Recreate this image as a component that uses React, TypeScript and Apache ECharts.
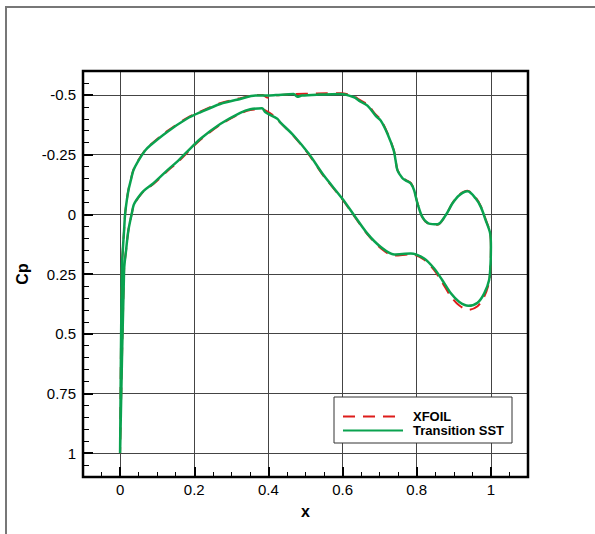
import React, { useEffect, useRef } from "react";
import * as echarts from "echarts";

// Transition SST: from trailing edge along upper surface to leading edge, then lower surface back to trailing edge
const sstX = [
  1.0, 0.998, 0.986, 0.973, 0.959, 0.937, 0.914, 0.896, 0.878, 0.856, 0.833, 0.815, 0.802, 0.793, 0.784, 0.770,
  0.761, 0.748, 0.743, 0.738, 0.721, 0.703, 0.689, 0.667, 0.644, 0.631, 0.595, 0.532, 0.49, 0.478, 0.468, 0.42,
  0.396, 0.365, 0.324, 0.270, 0.216, 0.180, 0.126, 0.081, 0.0676, 0.0495, 0.0359, 0.0289, 0.0224, 0.0181, 0.0135,
  0.0108, 0.0073, 0.0046, 0.0,
  0.0108, 0.0162, 0.0224, 0.0311, 0.0365, 0.0432, 0.0622, 0.0892, 0.127, 0.157, 0.181, 0.216, 0.270, 0.324, 0.351,
  0.383, 0.392, 0.424, 0.432, 0.468, 0.509, 0.549, 0.599, 0.631, 0.667, 0.703, 0.739, 0.784, 0.820, 0.847, 0.869,
  0.892, 0.914, 0.939, 0.964, 0.982, 0.995, 0.999, 1.0,
];
const sstCp = [
  0.137, 0.08, 0.025, -0.03, -0.066, -0.096, -0.079, -0.045, 0.004, 0.042, 0.039, 0.011, -0.045, -0.1, -0.129, -0.142,
  -0.152, -0.184, -0.225, -0.267, -0.337, -0.392, -0.413, -0.455, -0.476, -0.49, -0.504, -0.501, -0.497, -0.492, -0.504, -0.499,
  -0.497, -0.497, -0.483, -0.462, -0.427, -0.4, -0.344, -0.288, -0.267, -0.225, -0.184, -0.142, -0.1, -0.058, 0.0,
  0.067, 0.15, 0.234, 1.0,
  0.234, 0.15, 0.067, 0.0, -0.038, -0.058, -0.096, -0.129, -0.184, -0.225, -0.262, -0.315, -0.378, -0.425, -0.44,
  -0.444, -0.427, -0.4, -0.385, -0.33, -0.253, -0.163, -0.066, 0.004, 0.081, 0.137, 0.168, 0.164, 0.185, 0.227, 0.276,
  0.331, 0.366, 0.383, 0.37, 0.331, 0.276, 0.206, 0.137,
];

// XFOIL: same ordering
const xfoilX = [
  1.0, 0.998, 0.986, 0.973, 0.959, 0.937, 0.914, 0.896, 0.878, 0.856, 0.833, 0.815, 0.802, 0.793, 0.784, 0.770,
  0.761, 0.748, 0.743, 0.738, 0.721, 0.703, 0.689, 0.667, 0.644, 0.631, 0.595, 0.532, 0.468, 0.42, 0.405, 0.395,
  0.385, 0.365, 0.324, 0.270, 0.216, 0.180, 0.126, 0.081, 0.0676, 0.0495, 0.0359, 0.0289, 0.0224, 0.0181, 0.0135,
  0.0108, 0.0073, 0.0046, 0.0,
  0.0108, 0.0162, 0.0224, 0.0311, 0.0365, 0.0432, 0.0622, 0.0892, 0.127, 0.157, 0.181, 0.216, 0.270, 0.324, 0.351,
  0.383, 0.395, 0.41, 0.424, 0.432, 0.468, 0.509, 0.549, 0.599, 0.631, 0.667, 0.703, 0.739, 0.784, 0.820, 0.847, 0.869,
  0.892, 0.914, 0.939, 0.964, 0.982, 0.995, 0.999, 1.0,
];
const xfoilCp = [
  0.137, 0.078, 0.022, -0.033, -0.07, -0.099, -0.082, -0.046, 0.004, 0.044, 0.041, 0.012, -0.047, -0.102, -0.131, -0.144,
  -0.154, -0.186, -0.228, -0.27, -0.34, -0.396, -0.418, -0.46, -0.481, -0.494, -0.507, -0.506, -0.503, -0.498, -0.488, -0.49,
  -0.5, -0.499, -0.486, -0.465, -0.43, -0.403, -0.347, -0.29, -0.269, -0.227, -0.186, -0.144, -0.102, -0.06, 0.0,
  0.067, 0.15, 0.234, 1.0,
  0.234, 0.15, 0.067, 0.0, -0.036, -0.056, -0.094, -0.126, -0.18, -0.221, -0.258, -0.311, -0.375, -0.422, -0.437,
  -0.44, -0.432, -0.418, -0.4, -0.384, -0.328, -0.25, -0.16, -0.063, 0.007, 0.084, 0.142, 0.173, 0.168, 0.19, 0.234, 0.286,
  0.344, 0.381, 0.4, 0.385, 0.345, 0.285, 0.21, 0.137,
];

const xMin = -0.1;
const xMax = 1.1;
const xStep = 0.2;
const yMin = -0.6;
const yMax = 1.1;
const yStep = 0.25;

const seriesNames = ["XFOIL", "Transition SST"];
const font = "'Liberation Sans', Arial, Helvetica, sans-serif";

export default function App() {
  const ref = useRef<HTMLDivElement>(null);
  useEffect(() => {
    const chart = echarts.init(ref.current as HTMLDivElement, null, { renderer: "svg" });
    const xfoilData = xfoilX.map((x, i) => [x, xfoilCp[i]]);
    const sstData = sstX.map((x, i) => [x, sstCp[i]]);
    chart.setOption({
      animation: false,
      backgroundColor: "#fff",
      grid: { left: 83, top: 71, width: 445, height: 406 },
      xAxis: {
        type: "value",
        min: xMin,
        max: xMax,
        minInterval: xStep,
        maxInterval: xStep,
        name: "x",
        nameLocation: "middle",
        nameGap: 26,
        nameTextStyle: { fontFamily: font, fontSize: 16, fontWeight: "bold", color: "#000" },
        axisLine: { show: true, onZero: false, lineStyle: { color: "#000", width: 2 } },
        axisTick: { show: true, inside: true, length: 10, lineStyle: { color: "#000", width: 2 } },
        minorTick: { show: true, splitNumber: 4, length: 5, lineStyle: { color: "#000", width: 1 } },
        axisLabel: { showMinLabel: false, showMaxLabel: false, fontFamily: font, fontSize: 15, color: "#000", margin: 5 },
        splitLine: { show: true, showMinLine: false, showMaxLine: false, lineStyle: { color: "#444", width: 1 } },
      },
      yAxis: {
        type: "value",
        inverse: true,
        min: yMin,
        max: yMax,
        minInterval: yStep,
        maxInterval: yStep,
        name: "Cp",
        nameLocation: "middle",
        nameGap: 48,
        nameTextStyle: { fontFamily: font, fontSize: 16, fontWeight: "bold", color: "#000" },
        axisLine: { show: true, onZero: false, lineStyle: { color: "#000", width: 2 } },
        axisTick: { show: true, inside: true, length: 10, lineStyle: { color: "#000", width: 2 } },
        minorTick: { show: true, splitNumber: 5, length: 6, lineStyle: { color: "#000", width: 1 } },
        axisLabel: { showMinLabel: false, showMaxLabel: false, fontFamily: font, fontSize: 15, color: "#000", margin: 7 },
        splitLine: { show: true, showMinLine: false, showMaxLine: false, lineStyle: { color: "#444", width: 1 } },
      },
      legend: {
        orient: "vertical",
        left: 334,
        top: 397,
        itemWidth: 60,
        itemHeight: 14,
        itemGap: 1,
        padding: [13, 8, 6, 8],
        borderColor: "#333",
        borderWidth: 1,
        backgroundColor: "#fff",
        itemStyle: { opacity: 0 },
        textStyle: { fontFamily: font, fontSize: 13, fontWeight: "bold", color: "#000", padding: [0, 0, 0, 5] },
        data: seriesNames,
      },
      series: [
        {
          name: seriesNames[0],
          type: "line",
          data: xfoilData,
          symbol: "none",
          smooth: 0.3,
          lineStyle: { color: "#dd1c1a", width: 2, type: [12, 8] },
          itemStyle: { color: "#dd1c1a" },
          z: 2,
        },
        {
          name: seriesNames[1],
          type: "line",
          data: sstData,
          symbol: "none",
          smooth: 0.3,
          lineStyle: { color: "#0aa24f", width: 2.5 },
          itemStyle: { color: "#0aa24f" },
          z: 3,
        },
      ],
      graphic: [
        {
          type: "polyline",
          shape: { points: [[6, 534], [6, 7], [595, 7]] },
          style: { stroke: "#777", lineWidth: 2, fill: "none" },
          z: 100,
        },
        {
          type: "rect",
          shape: { x: 83, y: 71, width: 445, height: 406 },
          style: { stroke: "#000", lineWidth: 2.5, fill: "none" },
          z: 100,
        },
      ],
    });
    return () => chart.dispose();
  }, []);
  return (
    <div
      ref={ref}
      style={{ position: "fixed", left: 0, top: 0, width: 595, height: 534, background: "#fff" }}
    />
  );
}
